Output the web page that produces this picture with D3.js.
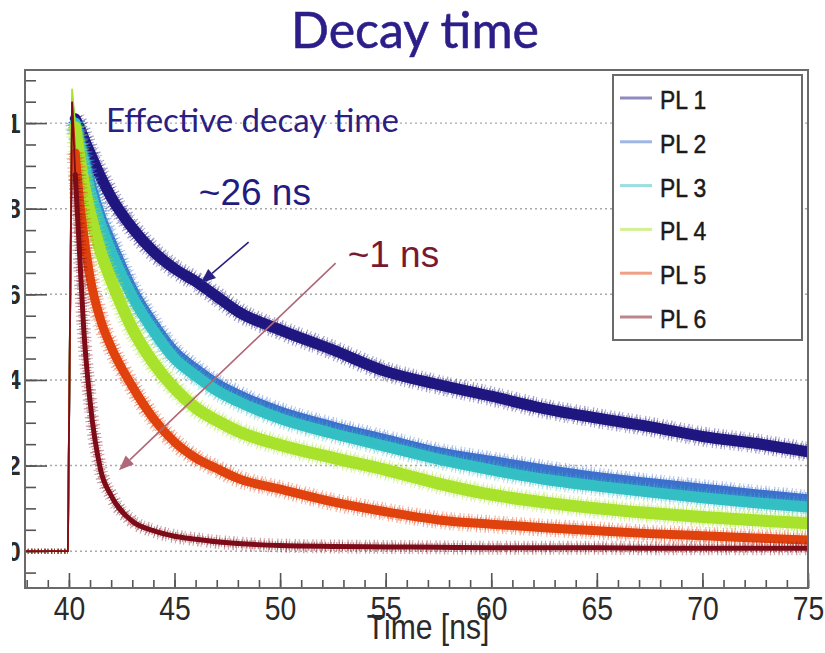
<!DOCTYPE html>
<html>
<head>
<meta charset="utf-8">
<script src="https://cdn.jsdelivr.net/npm/d3@7"></script>
<style>
  body { margin: 0; background: #fff; }
  svg { display: block; }
</style>
</head>
<body>
<div id="chart"></div>
<script>
// values (time in ns, normalised intensity)
var times = [37.9, 39.95, 40.15, 40.3, 40.5, 40.7, 41, 41.5, 42, 43, 44, 45, 46, 47, 48, 50, 52.5, 55, 57.5, 60, 62.5, 65, 67.5, 70, 72.5, 75];
var pl1 = [0, 0, 1.02, 1.01, 0.99, 0.965, 0.93, 0.875, 0.827, 0.755, 0.70, 0.66, 0.63, 0.595, 0.56, 0.517, 0.47, 0.42, 0.389, 0.362, 0.333, 0.311, 0.291, 0.268, 0.252, 0.232];
var pl2 = [0, 0, 1.05, 1.0, 0.96, 0.92, 0.86, 0.78, 0.72, 0.61, 0.53, 0.465, 0.425, 0.39, 0.365, 0.325, 0.29, 0.26, 0.23, 0.21, 0.19, 0.172, 0.158, 0.145, 0.132, 0.12];
var pl3 = [0, 0, 1.06, 1.0, 0.95, 0.91, 0.845, 0.765, 0.70, 0.595, 0.515, 0.45, 0.41, 0.375, 0.35, 0.31, 0.275, 0.245, 0.215, 0.19, 0.168, 0.152, 0.138, 0.125, 0.113, 0.103];
var pl4 = [0, 0, 1.08, 0.99, 0.92, 0.86, 0.79, 0.70, 0.633, 0.52, 0.44, 0.38, 0.335, 0.305, 0.28, 0.248, 0.218, 0.19, 0.158, 0.132, 0.114, 0.10, 0.089, 0.08, 0.072, 0.065];
var pl5 = [0, 0, 1.05, 0.93, 0.82, 0.74, 0.64, 0.54, 0.477, 0.385, 0.31, 0.255, 0.218, 0.193, 0.17, 0.145, 0.115, 0.092, 0.073, 0.063, 0.055, 0.048, 0.041, 0.036, 0.031, 0.026];
var pl6 = [0, 0, 1.05, 0.88, 0.70, 0.52, 0.35, 0.19, 0.13, 0.07, 0.048, 0.035, 0.028, 0.022, 0.018, 0.013, 0.011, 0.01, 0.009, 0.008, 0.008, 0.008, 0.007, 0.007, 0.007, 0.007];

var seriesNames = ["PL 1", "PL 2", "PL 3", "PL 4", "PL 5", "PL 6"];
var seriesValues = [pl1, pl2, pl3, pl4, pl5, pl6];
var seriesColors = ["#1f1680", "#3d6fcc", "#33bfc4", "#a8e22c", "#e0420e", "#7d0c18"];
var bandWidths = [11, 11, 11, 12, 9, 5];

var xMajorTicks = [40, 45, 50, 55, 60, 65, 70, 75];
var xMinorTicks = d3.range(38, 76, 1);
var yMajorTicks = [0, 0.2, 0.4, 0.6, 0.8, 1];
var yTickLabels = ["0", "0.2", "0.4", "0.6", "0.8", "1"];
var yMinorTicks = d3.range(-0.05, 1.11, 0.05);

var svgWidth = 825;
var svgHeight = 653;

var frame = { left: 25, right: 808, top: 70, bottom: 588 };

var svg = d3.select("#chart")
    .append("svg")
    .attr("width", svgWidth)
    .attr("height", svgHeight);

var xScale = d3.scaleLinear()
    .domain([37.92, 75])
    .range([frame.left, frame.right]);

var yScale = d3.scaleLinear()
    .domain([-0.086, 1.124])
    .range([frame.bottom, frame.top]);

// clip paths
var defs = svg.append("defs");
defs.append("clipPath").attr("id", "plotClip")
  .append("rect")
    .attr("x", frame.left).attr("y", frame.top)
    .attr("width", frame.right - frame.left)
    .attr("height", frame.bottom - frame.top);
defs.append("clipPath").attr("id", "leftCut")
  .append("rect")
    .attr("x", 12).attr("y", 0)
    .attr("width", svgWidth).attr("height", svgHeight);

// title
svg.append("text")
    .attr("x", 415)
    .attr("y", 48)
    .attr("text-anchor", "middle")
    .style("font-family", "Lato, 'Open Sans', sans-serif")
    .style("font-size", "50px")
    .style("fill", "#2c1e88")
    .style("stroke", "#2c1e88")
    .style("stroke-width", 0.6)
    .text("Decay time");

// gridlines
svg.append("g")
  .selectAll("line")
  .data(yMajorTicks)
  .enter()
  .append("line")
    .attr("x1", frame.left)
    .attr("x2", frame.right)
    .attr("y1", d => yScale(d))
    .attr("y2", d => yScale(d))
    .attr("stroke", "#a8a8a8")
    .attr("stroke-width", 1.4)
    .attr("stroke-dasharray", "2,3");

// axes (ticks pointing into the frame like ROOT)
var bottomMajor = d3.axisBottom(xScale)
    .tickValues(xMajorTicks)
    .tickSize(-15)
    .tickPadding(9)
    .tickFormat(d3.format("d"));
var bottomMinor = d3.axisBottom(xScale)
    .tickValues(xMinorTicks)
    .tickSize(-8)
    .tickFormat("");

var xAxisG = svg.append("g")
    .attr("transform", `translate(0, ${frame.bottom})`)
    .call(bottomMajor);
svg.append("g")
    .attr("transform", `translate(0, ${frame.bottom})`)
    .call(bottomMinor)
    .select(".domain").remove();

xAxisG.select(".domain").remove();
xAxisG.selectAll("text")
    .attr("transform", "scale(0.86,1)")
    .style("font-family", "'Liberation Sans', Arial, sans-serif")
    .style("font-size", "33px")
    .style("fill", "#2a2a2a");

var leftMajor = d3.axisLeft(yScale)
    .tickValues(yMajorTicks)
    .tickSize(-22)
    .tickPadding(5)
    .tickFormat((d, i) => yTickLabels[i]);
var leftMinor = d3.axisLeft(yScale)
    .tickValues(yMinorTicks)
    .tickSize(-11)
    .tickFormat("");

// the picture is cut on its left side, so only the last digit shows
var yAxisG = svg.append("g")
    .attr("clip-path", "url(#leftCut)")
  .append("g")
    .attr("transform", `translate(${frame.left}, 0)`)
    .call(leftMajor);
svg.append("g")
    .attr("transform", `translate(${frame.left}, 0)`)
    .call(leftMinor)
    .select(".domain").remove();

yAxisG.select(".domain").remove();
yAxisG.selectAll("text")
    .attr("transform", "scale(0.86,1)")
    .style("font-family", "'Liberation Sans', Arial, sans-serif")
    .style("font-size", "28px")
    .style("font-weight", "bold")
    .style("fill", "#2a2a2a");

svg.selectAll(".tick line")
    .attr("stroke", "#555")
    .attr("stroke-width", 1.6);

// curves
var plot = svg.append("g").attr("clip-path", "url(#plotClip)");

var thinLine = d3.line()
    .x(d => xScale(d.t))
    .y(d => yScale(d.v));
var bandLine = d3.line()
    .x(d => xScale(d.t))
    .y(d => yScale(d.v))
    .curve(d3.curveMonotoneX);

seriesValues.forEach(function(vals, i) {
    var pts = times.map((t, j) => ({ t: t, v: vals[j] }));
    var tail = pts.filter(d => d.t >= 40.3);
    var base = pts.filter(d => d.t <= 39.95);

    // uneven hatched halos to suggest the noise of the measured trace
    plot.append("path")
        .datum(tail)
        .attr("d", bandLine)
        .attr("fill", "none")
        .attr("stroke", seriesColors[i])
        .attr("stroke-width", bandWidths[i] + 9)
        .attr("stroke-dasharray", "1,3.5,1.4,2.2,0.9,4.6,1.2,2.8")
        .attr("opacity", 0.4);

    plot.append("path")
        .datum(tail)
        .attr("d", bandLine)
        .attr("fill", "none")
        .attr("stroke", seriesColors[i])
        .attr("stroke-width", bandWidths[i] + 4)
        .attr("stroke-dasharray", "1.1,1.6,0.8,2.1")
        .attr("opacity", 0.55);

    plot.append("path")
        .datum(tail)
        .attr("d", bandLine)
        .attr("fill", "none")
        .attr("stroke", seriesColors[i])
        .attr("stroke-width", bandWidths[i])
        .attr("stroke-linecap", "round");

    plot.append("path")
        .datum(base)
        .attr("d", thinLine)
        .attr("fill", "none")
        .attr("stroke", seriesColors[i])
        .attr("stroke-width", 5)
        .attr("stroke-dasharray", "1.2,2,0.8,2.6")
        .attr("opacity", 0.7);

    plot.append("path")
        .datum(pts)
        .attr("d", thinLine)
        .attr("fill", "none")
        .attr("stroke", seriesColors[i])
        .attr("stroke-width", 1.8);
});

// frame
svg.append("rect")
    .attr("x", frame.left)
    .attr("y", frame.top)
    .attr("width", frame.right - frame.left)
    .attr("height", frame.bottom - frame.top)
    .attr("fill", "none")
    .attr("stroke", "#6a6a6a")
    .attr("stroke-width", 2);

// axis title
svg.append("text")
    .attr("transform", "translate(428, 639) scale(0.86,1)")
    .attr("text-anchor", "middle")
    .style("font-family", "'Liberation Sans', Arial, sans-serif")
    .style("font-size", "35px")
    .style("fill", "#2a2a2a")
    .text("Time [ns]");

// legend
var legend = svg.append("g");
legend.append("rect")
    .attr("x", 613)
    .attr("y", 75)
    .attr("width", 189)
    .attr("height", 265)
    .attr("fill", "#fff")
    .attr("stroke", "#6a6a6a")
    .attr("stroke-width", 2);

var legendItems = legend.selectAll("g.item")
    .data(seriesNames)
    .enter()
    .append("g")
    .attr("class", "item")
    .attr("transform", (d, i) => `translate(0, ${98 + i * 43.8})`);

legendItems.append("line")
    .attr("x1", 620)
    .attr("x2", 652)
    .attr("stroke", (d, i) => seriesColors[i])
    .attr("stroke-opacity", 0.5)
    .attr("stroke-width", 3);

legendItems.append("text")
    .attr("transform", "translate(660, 11) scale(0.88,1)")
    .style("font-family", "'Liberation Sans', Arial, sans-serif")
    .style("font-size", "26px")
    .style("fill", "#1a1a1a")
    .style("stroke", "#1a1a1a")
    .style("stroke-width", 0.5)
    .text(d => d);

// annotations
var annoTexts = [
  { t: 41.75, v: 0.98, text: "Effective decay time", color: "#2a2082", size: 33, font: "Lato, 'Open Sans', sans-serif" },
  { t: 46.15, v: 0.808, text: "~26 ns", color: "#231c80", size: 37, font: "'Liberation Sans', Arial, sans-serif" },
  { t: 53.2, v: 0.664, text: "~1 ns", color: "#7a1830", size: 37, font: "'Liberation Sans', Arial, sans-serif" }
];
var arrows = [
  { t0: 48.51, v0: 0.722, t1: 46.24, v1: 0.626, color: "#2a2082" },
  { t0: 52.63, v0: 0.673, t1: 42.37, v1: 0.189, color: "#b06878" }
];

svg.append("g").selectAll("text")
    .data(annoTexts)
    .enter()
    .append("text")
    .attr("x", d => xScale(d.t))
    .attr("y", d => yScale(d.v))
    .style("font-family", d => d.font)
    .style("font-size", d => d.size + "px")
    .style("fill", d => d.color)
    .text(d => d.text);

arrows.forEach(function(a) {
    var x0 = xScale(a.t0), y0 = yScale(a.v0);
    var x1 = xScale(a.t1), y1 = yScale(a.v1);
    var ang = Math.atan2(y1 - y0, x1 - x0);
    var len = 15, half = 6;
    var bx = x1 - len * Math.cos(ang), by = y1 - len * Math.sin(ang);
    svg.append("line")
        .attr("x1", x0).attr("y1", y0)
        .attr("x2", bx).attr("y2", by)
        .attr("stroke", a.color)
        .attr("stroke-width", 1.6);
    svg.append("path")
        .attr("d", `M${x1},${y1} L${bx + half * Math.sin(ang)},${by - half * Math.cos(ang)} L${bx - half * Math.sin(ang)},${by + half * Math.cos(ang)} Z`)
        .attr("fill", a.color);
});
</script>
</body>
</html>
